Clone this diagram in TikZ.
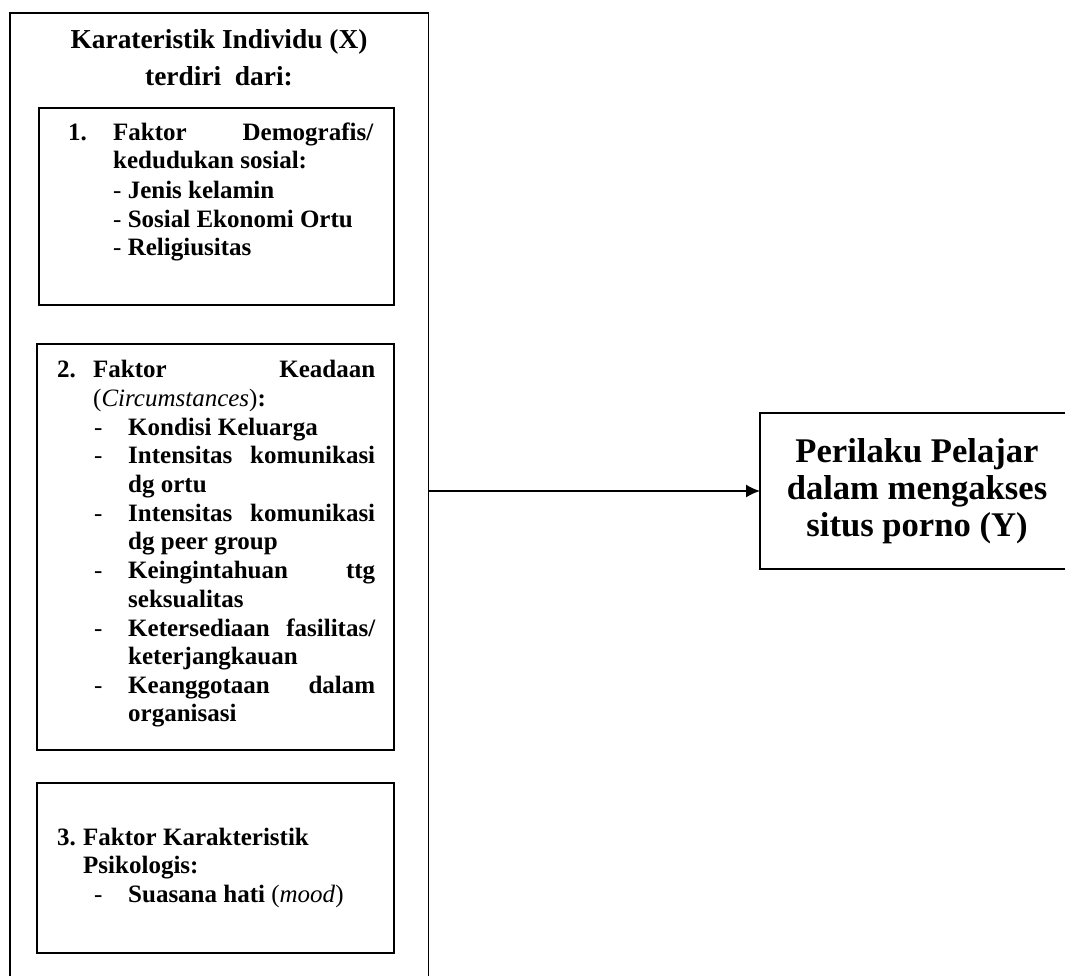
\documentclass[tikz,border=0pt]{standalone}
\usepackage{fontspec}
\setmainfont{Liberation Serif}
\usetikzlibrary{arrows.meta}
\newcommand{\jst}[2]{\makebox[#1][s]{#2}}
\newcommand{\thindash}{{\mdseries -}}
\begin{document}
\begin{tikzpicture}[x=1pt,y=-1pt,
  frame/.style={draw, line width=1.8pt, inner sep=0pt, outer sep=0pt},
  body/.style={anchor=base west, inner sep=0pt, font=\fontsize{25}{29}\selectfont\bfseries},
  ttl/.style={anchor=base, inner sep=0pt, font=\fontsize{27.4}{35}\selectfont\bfseries},
  ytext/.style={inner sep=0pt, align=center, font=\fontsize{34.6}{37}\selectfont\bfseries},
  arr/.style={-{Latex[length=14pt,width=13pt]}, line width=1.5pt}]
\useasboundingbox (0,0) rectangle (1065,975);
% frames
\node[frame, minimum width=418.5pt, minimum height=980pt] (outer) at (219.25,503) {};
\node[frame, minimum width=355pt, minimum height=197pt] (box1) at (216.5,206.5) {};
\node[frame, minimum width=357pt, minimum height=406pt] (box2) at (215.5,547) {};
\node[frame, minimum width=357pt, minimum height=170pt] (box3) at (215.5,868) {};
\node[frame, minimum width=340pt, minimum height=156pt] (Y) at (930,491) {};
\node[ytext] (Ytext) at (917,491) {Perilaku Pelajar\\dalam mengakses\\situs porno (Y)};
\draw[arr] (outer.east |- Y.west) -- (Y.west);
% title
\node[ttl] (t1) at (219,48) {Karateristik Individu (X)};
\node[ttl] (t2) at (219,85) {terdiri\ \ dari:};
% box 1
\node[body] (a0) at (68,140) {1.};
\node[body] (a1) at (113,140) {\jst{260pt}{Faktor Demografis/}};
\node[body] (a2) at (113,168) {kedudukan sosial:};
\node[body] (a3) at (113,198) {\thindash{} Jenis kelamin};
\node[body] (a4) at (113,227) {\thindash{} Sosial Ekonomi Ortu};
\node[body] (a5) at (113,255) {\thindash{} Religiusitas};
% box 2
\node[body] (b0) at (57,377) {2.};
\node[body] (b1) at (93,377) {\jst{282pt}{Faktor Keadaan}};
\node[body] (b2) at (93,406) {{\mdseries(\textit{Circumstances})}:};
\node[body] (d1) at (94,435) {\thindash};
\node[body] (c1) at (128,435) {Kondisi Keluarga};
\node[body] (d2) at (94,463) {\thindash};
\node[body] (c2) at (128,463) {\jst{247pt}{Intensitas komunikasi}};
\node[body] (c3) at (128,492) {dg ortu};
\node[body] (d3) at (94,521) {\thindash};
\node[body] (c4) at (128,521) {\jst{247pt}{Intensitas komunikasi}};
\node[body] (c5) at (128,549) {dg peer group};
\node[body] (d4) at (94,578) {\thindash};
\node[body] (c6) at (128,578) {\jst{247pt}{Keingintahuan ttg}};
\node[body] (c7) at (128,607) {seksualitas};
\node[body] (d5) at (94,636) {\thindash};
\node[body] (c8) at (128,636) {\jst{247pt}{Ketersediaan fasilitas/}};
\node[body] (c9) at (128,664) {keterjangkauan};
\node[body] (d6) at (94,693) {\thindash};
\node[body] (c10) at (128,693) {\jst{247pt}{Keanggotaan dalam}};
\node[body] (c11) at (128,721) {organisasi};
% box 3
\node[body] (e0) at (57,845) {3.};
\node[body] (e1) at (83,845) {Faktor Karakteristik};
\node[body] (e2) at (83,873) {Psikologis:};
\node[body] (d7) at (94,902) {\thindash};
\node[body] (e3) at (128,902) {Suasana hati {\mdseries(\textit{mood})}};
\end{tikzpicture}
\end{document}
